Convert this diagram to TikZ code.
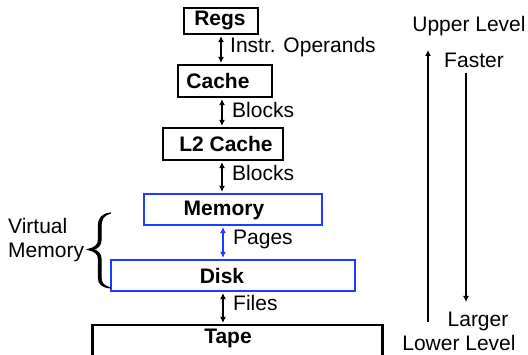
\documentclass[tikz,border=0pt]{standalone}
\usepackage{fontspec}
\setmainfont{Liberation Sans}
\usetikzlibrary{arrows.meta}
\definecolor{vblue}{RGB}{30,60,255}
\tikzset{
  box/.style={draw, line width=2.2pt, inner sep=0pt},
  lbl/.style={font=\fontsize{21}{24}\selectfont, inner sep=0pt},
  blbl/.style={font=\fontsize{21}{24}\selectfont\bfseries, inner sep=0pt},
  link/.style={line width=1.8pt, {Latex[length=6pt,width=6pt]}-{Latex[length=6pt,width=6pt]}, shorten <=1pt, shorten >=1pt},
  single/.style={line width=1.8pt, -{Latex[length=6pt,width=6pt]}}
}
\begin{document}
\begin{tikzpicture}[x=1pt,y=-1pt]
\useasboundingbox (0,0) rectangle (528,355);
% boxes
\node[box, minimum width=74pt, minimum height=26pt] (regs) at (221,21) {};
\node[box, minimum width=94pt, minimum height=32pt] (cache) at (225,81) {};
\node[box, minimum width=120pt, minimum height=32pt] (l2) at (223,144) {};
\node[box, draw=vblue, minimum width=178pt, minimum height=31pt] (mem) at (233,209.5) {};
\node[box, draw=vblue, minimum width=244pt, minimum height=31pt] (disk) at (233,275.5) {};
\node[box, minimum width=290pt, minimum height=40pt] (tape) at (237.5,345) {};
% box texts
\node[blbl] (tregs) at (220,21) {Regs};
\node[blbl] (tcache) at (218,81) {Cache};
\node[blbl] (tl2) at (226,144) {L2 Cache};
\node[blbl] (tmem) at (224,210) {Memory};
\node[blbl] (tdisk) at (222,276) {Disk};
\node[blbl] (ttape) at (228,338) {Tape};
% connectors
\coordinate (a1) at (221,0);
\draw[link] (regs.south -| a1) -- (cache.north -| a1);
\coordinate (a2) at (222,0);
\draw[link] (cache.south -| a2) -- (l2.north -| a2);
\draw[link] (l2.south -| a2) -- (mem.north -| a2);
\coordinate (a3) at (223,0);
\draw[link, vblue] (mem.south -| a3) -- (disk.north -| a3);
\draw[link] (disk.south -| a3) -- (tape.north -| a3);
% connector labels
\node[lbl, anchor=west] (l1) at (230,47) {Instr. Operands};
\node[lbl, anchor=west] (l2b) at (232,110) {Blocks};
\node[lbl, anchor=west] (l3) at (232,173) {Blocks};
\node[lbl, anchor=west] (l4) at (233,239) {Pages};
\node[lbl, anchor=west] (l5) at (233,303) {Files};
% virtual memory
\node[lbl, anchor=west, align=left, font=\fontsize{21}{24}\selectfont] (vm) at (8,240) {Virtual\\Memory};
\draw[line width=1.2pt, fill=black]
  (111,213) .. controls (102,214) and (98.5,218) .. (98.5,226) -- (98.5,240)
  .. controls (98.5,245) and (95,248) .. (88,249.5)
  .. controls (95,251) and (98.5,254) .. (98.5,259) -- (98.5,278)
  .. controls (98.5,284) and (102,287) .. (111,288)
  .. controls (103,286) and (101,283) .. (101,277) -- (101,259)
  .. controls (101,254) and (98,251) .. (93,249.5)
  .. controls (98,248) and (101,245) .. (101,240) -- (101,227)
  .. controls (101,219) and (103,215) .. (111,213) -- cycle;
% right side
\node[lbl] (upper) at (469,26) {Upper Level};
\node[lbl] (faster) at (474,60) {Faster};
\node[lbl] (larger) at (478,321) {Larger};
\node[lbl] (lower) at (459,343) {Lower Level};
\coordinate (u0) at (428,322);
\coordinate (u1) at (428,50);
\draw[single] (u0) -- (u1);
\coordinate (d0) at (466,73);
\coordinate (d1) at (466,302);
\draw[single] (d0) -- (d1);
\end{tikzpicture}
\end{document}
